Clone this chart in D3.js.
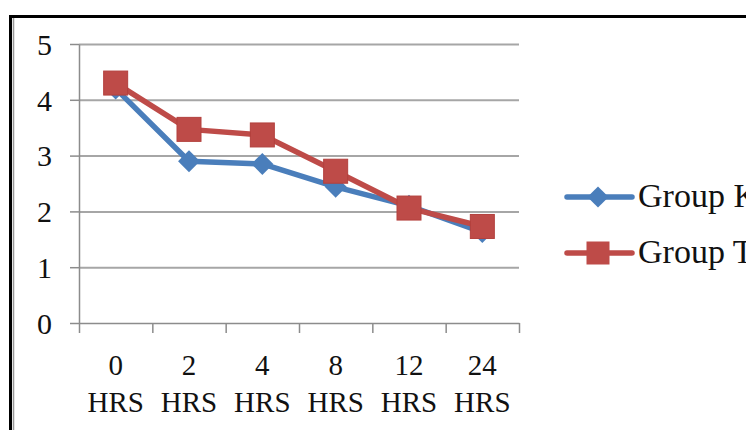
<!DOCTYPE html>
<html>
<head>
<meta charset="utf-8">
<script src="https://cdn.jsdelivr.net/npm/d3@7"></script>
<style>
  body { margin: 0; background: #fff; }
  svg text { font-family: "Liberation Serif", "Times New Roman", serif; fill: #111; }
</style>
</head>
<body>
<div id="chart"></div>
<script>
var hours = ["0", "2", "4", "8", "12", "24"];
var groupK = [4.2, 2.9, 2.85, 2.44, 2.1, 1.63];
var groupT = [4.3, 3.47, 3.37, 2.72, 2.06, 1.73];
var seriesNames = ["Group K", "Group T"];
var yTicks = [0, 1, 2, 3, 4, 5];

var svgWidth = 746;
var svgHeight = 430;

var plot = { left: 79, right: 519, top: 44, bottom: 323 };

var svg = d3.select("#chart")
    .append("svg")
    .attr("width", svgWidth)
    .attr("height", svgHeight);

// outer frame (runs off the right and bottom edge)
svg.append("rect")
    .attr("x", 10.5).attr("y", 16.5)
    .attr("width", 800).attr("height", 500)
    .attr("fill", "none")
    .attr("stroke", "#000")
    .attr("stroke-width", 3);
svg.append("line")
    .attr("x1", 13.5).attr("x2", 13.5)
    .attr("y1", 18).attr("y2", 430)
    .attr("stroke", "#999")
    .attr("stroke-width", 1.5);

// scales
var xBand = d3.scaleBand()
    .domain(hours)
    .range([plot.left, plot.right]);

var xEdge = d3.scaleLinear()
    .domain([0, hours.length])
    .range([plot.left, plot.right]);

var yScale = d3.scaleLinear()
    .domain([0, 5])
    .range([plot.bottom, plot.top]);

// gridlines
var grid = svg.append("g")
    .attr("transform", `translate(${plot.left},0)`)
    .call(d3.axisLeft(yScale).tickValues(yTicks.slice(1)).tickSize(-(plot.right - plot.left)).tickFormat(""));
grid.select(".domain").remove();
grid.selectAll("line").attr("stroke", "#a6a6a6").attr("stroke-width", 2);

// y axis
var yAxis = svg.append("g")
    .attr("transform", `translate(${plot.left},0)`)
    .call(d3.axisLeft(yScale).tickValues(yTicks).tickFormat(d3.format("d")).tickSize(9).tickPadding(18).tickSizeOuter(0));
yAxis.select(".domain").attr("stroke", "#8c8c8c").attr("stroke-width", 1.5);
yAxis.selectAll("line").attr("stroke", "#8c8c8c").attr("stroke-width", 1.5);
yAxis.selectAll("text")
    .style("font-size", "30px")
    .attr("dy", "0.34em");

// x axis (ticks on category edges)
var xAxis = svg.append("g")
    .attr("transform", `translate(0,${plot.bottom})`)
    .call(d3.axisBottom(xEdge).tickValues(d3.range(hours.length + 1)).tickSize(10).tickSizeOuter(0).tickFormat(""));
xAxis.select(".domain").attr("stroke", "#8c8c8c").attr("stroke-width", 1.5);
xAxis.selectAll("line").attr("stroke", "#8c8c8c").attr("stroke-width", 1.5);

// category labels, two lines
var xLabels = svg.append("g")
    .selectAll("text")
    .data(hours)
    .enter()
    .append("text")
    .attr("text-anchor", "middle")
    .style("font-size", "29px");
xLabels.append("tspan")
    .attr("x", d => xBand(d) + xBand.bandwidth() / 2)
    .attr("y", 375)
    .text(d => d);
xLabels.append("tspan")
    .attr("x", d => xBand(d) + xBand.bandwidth() / 2)
    .attr("y", 412)
    .text("HRS");

// series
var cx = (d, i) => xBand(hours[i]) + xBand.bandwidth() / 2;

var line = d3.line()
    .x(cx)
    .y(d => yScale(d));

var colorK = "#4a7ebb";
var colorT = "#be4b48";

svg.append("path")
    .datum(groupK)
    .attr("d", line)
    .attr("fill", "none")
    .attr("stroke", colorK)
    .attr("stroke-width", 5.5)
    .attr("stroke-linejoin", "round");

var diamond = d3.symbol().type(d3.symbolSquare).size(15.5 * 15.5);

svg.append("g")
    .selectAll("path")
    .data(groupK)
    .enter()
    .append("path")
    .attr("d", diamond)
    .attr("fill", colorK)
    .attr("transform", (d, i) => `translate(${cx(d, i)},${yScale(d)}) rotate(45)`);

svg.append("path")
    .datum(groupT)
    .attr("d", line)
    .attr("fill", "none")
    .attr("stroke", colorT)
    .attr("stroke-width", 5.5)
    .attr("stroke-linejoin", "round");

svg.append("g")
    .selectAll("rect")
    .data(groupT)
    .enter()
    .append("rect")
    .attr("x", (d, i) => cx(d, i) - 12)
    .attr("y", d => yScale(d) - 12)
    .attr("width", 24)
    .attr("height", 24)
    .attr("fill", colorT)
    .attr("stroke", "#b3403d")
    .attr("stroke-width", 1);

// legend
var legend = svg.append("g");
var legendY = [197, 253];

legend.selectAll("line")
    .data(seriesNames)
    .enter()
    .append("line")
    .attr("x1", 567).attr("x2", 632)
    .attr("y1", (d, i) => legendY[i]).attr("y2", (d, i) => legendY[i])
    .attr("stroke", (d, i) => i === 0 ? colorK : colorT)
    .attr("stroke-width", 5.5)
    .attr("stroke-linecap", "round");

legend.append("path")
    .attr("d", d3.symbol().type(d3.symbolSquare).size(15 * 15))
    .attr("fill", colorK)
    .attr("transform", `translate(598,${legendY[0]}) rotate(45)`);

legend.append("rect")
    .attr("x", 598 - 11.5).attr("y", legendY[1] - 11.5)
    .attr("width", 23).attr("height", 23)
    .attr("fill", colorT);

legend.selectAll("text")
    .data(seriesNames)
    .enter()
    .append("text")
    .attr("x", 638)
    .attr("y", (d, i) => legendY[i] + 10)
    .style("font-size", "34px")
    .text(d => d);
</script>
</body>
</html>
